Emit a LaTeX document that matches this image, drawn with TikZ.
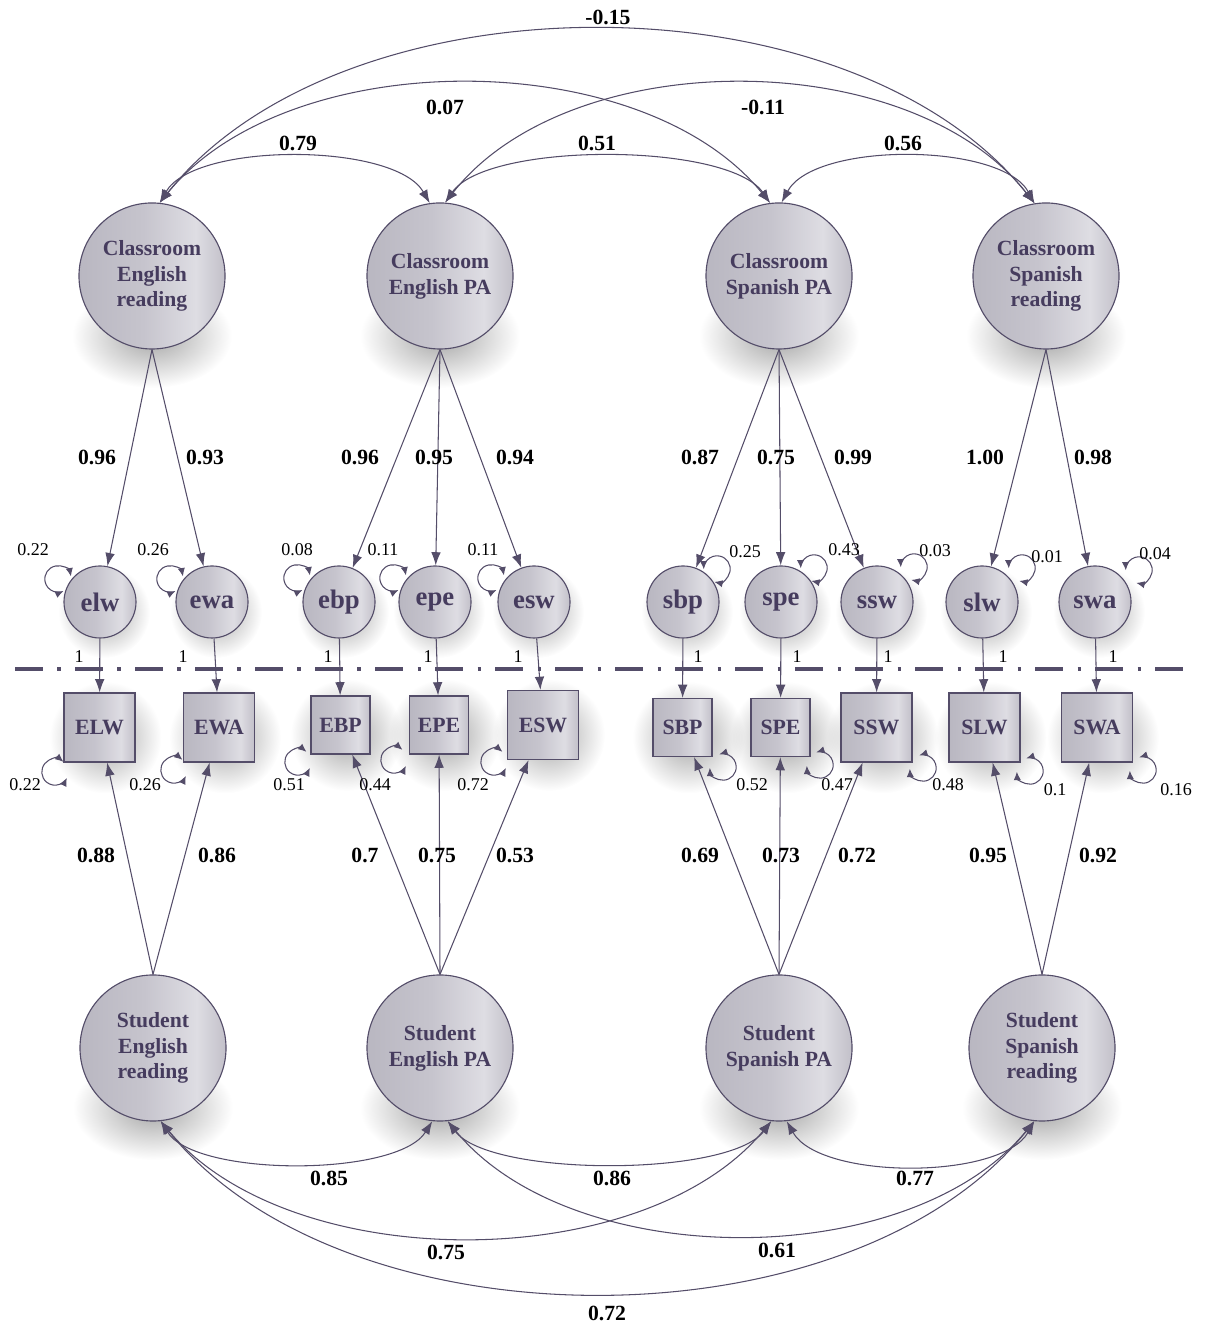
\documentclass[tikz,border=0pt]{standalone}
\usepackage{fontspec}
\setmainfont{Liberation Serif}
\usetikzlibrary{positioning,arrows.meta,calc}
\definecolor{semline}{HTML}{544D69}
\definecolor{semtext}{HTML}{463C5E}
\definecolor{fillL}{HTML}{B9B7C1}
\definecolor{fillM}{HTML}{C6C4CD}
\definecolor{fillR}{HTML}{DEDDE3}
\definecolor{fillE}{HTML}{C2C0C9}
\pgfdeclarehorizontalshading{semfill}{100bp}{color(0bp)=(fillL); color(25bp)=(fillL); color(47bp)=(fillM); color(65bp)=(fillR); color(75bp)=(fillE); color(100bp)=(fillE)}
\pgfdeclareradialshading{semshadow}{\pgfpoint{0bp}{0bp}}{color(0bp)=(black!36); color(11bp)=(black!20); color(25bp)=(white); color(50bp)=(white)}
\tikzset{
  latent/.style={circle, draw=semline, line width=0.8pt, shading=semfill, minimum size=3.65cm, inner sep=0pt, align=center, text=semtext, font=\fontsize{15.4pt}{18.4pt}\selectfont\bfseries},
  errnode/.style={circle, draw=semline, line width=0.8pt, shading=semfill, minimum size=1.8cm, inner sep=0pt, text=semtext, font=\fontsize{19pt}{22pt}\selectfont\bfseries},
  obsbox/.style={rectangle, draw=semline, line width=0.8pt, shading=semfill, minimum width=1.775cm, minimum height=1.725cm, inner sep=0pt, text=semtext, font=\fontsize{15.5pt}{18pt}\selectfont\bfseries},
  obssmall/.style={minimum width=1.475cm, minimum height=1.45cm},
  pathline/.style={-{Latex[length=3.3mm,width=2.4mm]}, semline, line width=0.75pt},
  covline/.style={{Latex[length=3.3mm,width=2.4mm]}-{Latex[length=3.3mm,width=2.4mm]}, semline, line width=0.75pt},
  varloop/.style={{Latex[length=2.1mm,width=1.8mm]}-{Latex[length=2.1mm,width=1.8mm]}, semline, line width=0.75pt},
  coeflbl/.style={font=\fontsize{15.4pt}{18pt}\selectfont\bfseries, inner sep=1pt},
  varlbl/.style={font=\fontsize{12.8pt}{15pt}\selectfont, inner sep=1pt}
}
% variance loop: centre, direction of its opening
\newcommand{\resloop}[2]{\draw[varloop] ($(#1)+(#2+38:0.33cm)$) arc[start angle=#2+38, delta angle=284, radius=0.33cm];}
\newcommand{\softshadow}[3]{\shade[shading=semshadow] (#1) ellipse [x radius=#2, y radius=#3];}

\begin{document}
\begin{tikzpicture}[x=0.025cm, y=0.025cm]
  \useasboundingbox (0,0) rectangle (1210,1325);

  % shadows
  \begin{scope}[blend mode=multiply]
  \foreach \x/\y in {152/1049, 440/1049, 779/1049, 1046/1049, 153/277, 440/277, 779/277, 1042/277}
    {\softshadow{\x,\y-60}{2.0cm}{1.3cm}}
  \foreach \x in {100, 212, 339, 435, 534, 683, 781, 877, 982, 1095}
    {\softshadow{\x+4,713}{1.15cm}{1.15cm}}
  \foreach \x/\y in {99.5/597.5, 219/597.5, 340.5/600, 439/600, 543/600, 682.5/597.5, 780.5/597.5, 876.5/597.5, 984.5/597.5, 1097/597.5}
    {\softshadow{\x+6,\y-10}{1.4cm}{1.4cm}}
  \end{scope}

  % latent factors
  \node[latent] (CER) at (152,1049) {Classroom\\English\\reading};
  \node[latent] (CEPA) at (440,1049) {Classroom\\English PA};
  \node[latent] (CSPA) at (779,1049) {Classroom\\Spanish PA};
  \node[latent] (CSR) at (1046,1049) {Classroom\\Spanish\\reading};
  \node[latent] (SER) at (153,277) {Student\\English\\reading};
  \node[latent] (SEPA) at (440,277) {Student\\English PA};
  \node[latent] (SSPA) at (779,277) {Student\\Spanish PA};
  \node[latent] (SSR) at (1042,277) {Student\\Spanish\\reading};

  % residual factors
  \foreach \n/\x in {elw/100, ewa/212, ebp/339, epe/435, esw/534, sbp/683, spe/781, ssw/877, slw/982, swa/1095}
    \node[errnode] (\n) at (\x,723) {\n};

  % observed scores
  \node[obsbox] (ELW) at (99.5,597.5) {ELW};
  \node[obsbox] (EWA) at (219,597.5) {EWA};
  \node[obsbox, obssmall] (EBP) at (340.5,600) {EBP};
  \node[obsbox, obssmall] (EPE) at (439,600) {EPE};
  \node[obsbox] (ESW) at (543,600) {ESW};
  \node[obsbox, obssmall] (SBP) at (682.5,597.5) {SBP};
  \node[obsbox, obssmall] (SPE) at (780.5,597.5) {SPE};
  \node[obsbox] (SSW) at (876.5,597.5) {SSW};
  \node[obsbox] (SLW) at (984.5,597.5) {SLW};
  \node[obsbox] (SWA) at (1097,597.5) {SWA};

  % loadings
  \foreach \f/\e in {CER/elw, CER/ewa, CEPA/ebp, CEPA/epe, CEPA/esw, CSPA/sbp, CSPA/spe, CSPA/ssw, CSR/slw, CSR/swa}
    \draw[pathline] (\f.south) -- (\e);
  \foreach \f/\o in {SER/ELW, SER/EWA, SEPA/EBP, SEPA/EPE, SEPA/ESW, SSPA/SBP, SSPA/SPE, SSPA/SSW, SSR/SLW, SSR/SWA}
    \draw[pathline] (\f.north) -- (\o);
  \foreach \e/\o in {elw/ELW, ewa/EWA, ebp/EBP, epe/EPE, esw/ESW, sbp/SBP, spe/SPE, ssw/SSW, slw/SLW, swa/SWA}
    \draw[pathline] (\e) -- (\o);

  % level separator
  \coordinate (sepL) at (15,656);
  \coordinate (sepR) at (1185,656);
  \draw[semline, line width=2.8pt, dash pattern=on 0.7cm off 0.36cm on 0.08cm off 0.36cm] (sepL) -- (sepR);

  % classroom covariances
  \draw[covline] (CER.84) .. controls +(35,61) and +(-35,61) .. (CEPA.98);
  \draw[covline] (CEPA.86) .. controls +(42,61) and +(-42,61) .. (CSPA.97);
  \draw[covline] (CSPA.88) .. controls +(33,61) and +(-33,61) .. (CSR.99);
  \draw[covline] (CER.84) .. controls +(129,159) and +(-129,159) .. (CSPA.97);
  \draw[covline] (CEPA.86) .. controls +(125,159) and +(-125,159) .. (CSR.99);
  \draw[covline] (CER.84) .. controls +(184,231) and +(-184,231) .. (CSR.99);

  % student covariances
  \draw[covline] (SER.-84) .. controls +(35,-56) and +(-35,-56) .. (SEPA.-96);
  \draw[covline] (SEPA.-84) .. controls +(42,-56) and +(-42,-56) .. (SSPA.-96);
  \draw[covline] (SSPA.-84) .. controls +(33,-59) and +(-33,-59) .. (SSR.-96);
  \draw[covline] (SER.-84) .. controls +(129,-155) and +(-129,-155) .. (SSPA.-96);
  \draw[covline] (SEPA.-84) .. controls +(125,-152) and +(-125,-152) .. (SSR.-96);
  \draw[covline] (SER.-84) .. controls +(184,-229) and +(-184,-229) .. (SSR.-96);

  % variances
  \foreach \x/\y in {58/746, 170/746, 297/747, 393/747, 491/747}
    {\resloop{\x,\y}{-27}}
  \foreach \x/\y in {717/756, 814/757, 914/758, 1022/757, 1139/755}
    {\resloop{\x,\y}{220}}
  \foreach \x/\y in {55/553, 174/555, 298/563, 394/565, 494/563}
    {\resloop{\x,\y}{12}}
  \foreach \x/\y in {723/558, 820/560, 923/557, 1030/554, 1143/555}
    {\resloop{\x,\y}{145}}

  % estimates
  \foreach \x/\v [count=\i] in {97/0.96, 205/0.93, 360/0.96, 434/0.95, 515/0.94, 700/0.87, 776/0.75, 853/0.99, 985/1.00, 1093/0.98}
    \node[coeflbl] (ltop\i) at (\x,868) {\v};
  \foreach \x/\v [count=\i] in {96/0.88, 217/0.86, 365/0.7, 437/0.75, 515/0.53, 700/0.69, 781/0.73, 857/0.72, 988/0.95, 1098/0.92}
    \node[coeflbl] (lbot\i) at (\x,470) {\v};
  \foreach \x/\y/\v [count=\i] in {608/1308/-0.15, 445/1218/0.07, 763/1218/-0.11, 298/1182/0.79, 597/1182/0.51, 903/1182/0.56,
      329/147/0.85, 612/147/0.86, 915/147/0.77, 446/73/0.75, 777/75/0.61, 607/12/0.72}
    \node[coeflbl] (cov\i) at (\x,\y) {\v};
  \foreach \x [count=\i] in {79, 183, 328, 428, 518, 698, 797, 888, 1003, 1113}
    \node[varlbl] (one\i) at (\x,668) {1};
  \foreach \x/\y/\v [count=\i] in {33/775/0.22, 153/775/0.26, 297/775/0.08, 383/775/0.11, 483/775/0.11,
      745/773/0.25, 844/775/0.43, 935/774/0.03, 1047/768/0.01, 1155/771/0.04,
      25/540/0.22, 145/540/0.26, 289/540/0.51, 375/540/0.44, 473/540/0.72,
      752/540/0.52, 837/540/0.47, 948/540/0.48, 1055/535/0.1, 1176/535/0.16}
    \node[varlbl] (var\i) at (\x,\y) {\v};
\end{tikzpicture}
\end{document}
